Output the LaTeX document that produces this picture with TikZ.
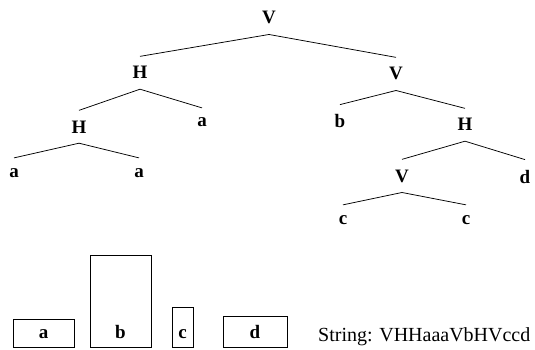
\documentclass[tikz,border=0pt]{standalone}
\usepackage{fontspec}
\setmainfont{Liberation Serif}
\tikzset{lbl/.style={font=\fontsize{19}{21}\selectfont\bfseries, anchor=base, inner xsep=1pt, inner ysep=10pt},
         branch/.style={line width=0.75pt},
         box/.style={draw, line width=0.9pt}}

\begin{document}
\begin{tikzpicture}[x=1pt,y=-1pt]
\useasboundingbox (0,0) rectangle (535,350);
\node [lbl] (v) at (269,24) {V};
\node [lbl] (vh) at (140,79) {H};
\node [lbl] (vv) at (396,80) {V};
\node [lbl] (vhh) at (79,133) {H};
\node [lbl] (vha) at (202,127) {a};
\node [lbl] (vvb) at (340,128) {b};
\node [lbl] (vvh) at (465,131) {H};
\node [lbl] (vhha) at (14,177) {a};
\node [lbl] (vhhb) at (139,177) {a};
\node [lbl] (vvhv) at (402,182) {V};
\node [lbl] (vvhd) at (525,183) {d};
\node [lbl] (vvhva) at (343,224) {c};
\node [lbl] (vvhvb) at (466,224) {c};
\draw [branch] (v.south) -- (vh.north);
\draw [branch] (v.south) -- (vv.north);
\draw [branch] (vh.south) -- (vhh.north);
\draw [branch] (vh.south) -- (vha.north);
\draw [branch] (vv.south) -- (vvb.north);
\draw [branch] (vv.south) -- (vvh.north);
\draw [branch] (vhh.south) -- (vhha.north);
\draw [branch] (vhh.south) -- (vhhb.north);
\draw [branch] (vvh.south) -- (vvhv.north);
\draw [branch] (vvh.south) -- (vvhd.north);
\draw [branch] (vvhv.south) -- (vvhva.north);
\draw [branch] (vvhv.south) -- (vvhvb.north);
\draw [box] (13,319) rectangle (74,347);
\draw [box] (90,255) rectangle (151,347);
\draw [box] (172,307) rectangle (193,347);
\draw [box] (223,316) rectangle (287,347);
\node [lbl] (boxa) at (43.5,338) {a};
\node [lbl] (boxb) at (120.5,338) {b};
\node [lbl] (boxc) at (182.5,338) {c};
\node [lbl] (boxd) at (255,338) {d};
\node [anchor=base west, inner sep=0pt, font=\fontsize{20}{22}\selectfont] (str) at (318,341) {String: VHHaaaVbHVccd};
\end{tikzpicture}
\end{document}
